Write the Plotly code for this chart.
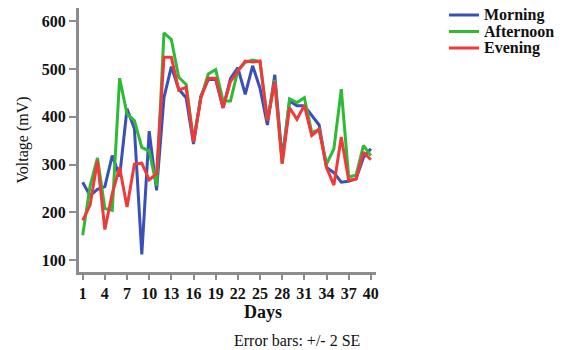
import plotly.graph_objects as go

days = list(range(1, 41))
tick_days = [1, 4, 7, 10, 13, 16, 19, 22, 25, 28, 31, 34, 37, 40]
y_ticks = [100, 200, 300, 400, 500, 600]

morning = [263, 235, 248, 254, 319, 275, 417, 375, 112, 370, 246, 440, 505, 458, 440, 343, 444, 478, 478, 419,
           480, 503, 447, 507, 460, 383, 488, 312, 433, 423, 423, 402, 383, 294, 283, 263, 265, 270, 315, 333]
afternoon = [152, 255, 314, 208, 204, 481, 406, 392, 336, 328, 256, 576, 562, 483, 468, 350, 440, 490, 499, 433,
             433, 497, 514, 519, 515, 392, 477, 302, 438, 430, 440, 367, 374, 301, 333, 458, 274, 278, 340, 319]
evening = [183, 215, 308, 164, 239, 294, 211, 301, 303, 268, 281, 525, 525, 456, 462, 347, 440, 481, 481, 419,
           474, 496, 517, 515, 517, 392, 474, 302, 419, 395, 424, 361, 374, 294, 257, 358, 267, 270, 326, 310]

series = [
    ("Morning", morning, "#3a50b8"),
    ("Afternoon", afternoon, "#2fba36"),
    ("Evening", evening, "#f03a3a"),
]

SERIF = "Liberation Serif, Times New Roman, serif"
W, H = 566, 350
ML, MR, MT, MB = 79, 190, 8, 78
PW, PH = W - ML - MR, H - MT - MB


def px_x(p):
    return (p - ML) / PW


def px_y(p):
    return (H - MB - p) / PH


fig = go.Figure()
for name, vals, color in series:
    fig.add_trace(go.Scatter(
        x=days, y=vals, mode="lines", name=name, showlegend=False,
        line=dict(color=color, width=3),
    ))

axis_common = dict(
    showgrid=False, zeroline=False, showline=True,
    linecolor="#8c8c8c", linewidth=3,
    ticks="outside", tickcolor="#8c8c8c", tickwidth=2,
    tickfont=dict(family=SERIF, size=16, color="#111111", weight="bold"),
)

# legend: short line swatch plus bold label per series
shapes, annotations = [], []
for i, (name, _, color) in enumerate(series):
    yc = 15 + i * 16.5
    shapes.append(dict(type="line", xref="paper", yref="paper",
                       x0=px_x(449), x1=px_x(479), y0=px_y(yc), y1=px_y(yc),
                       line=dict(color=color, width=3)))
    annotations.append(dict(text=name, xref="paper", yref="paper", x=px_x(482), y=px_y(yc),
                            xanchor="left", yanchor="middle", showarrow=False,
                            font=dict(family=SERIF, size=16, color="#111111", weight="bold")))

annotations += [
    dict(text="Days", xref="paper", yref="paper", x=px_x(263), y=px_y(312),
         xanchor="center", yanchor="middle", showarrow=False,
         font=dict(family=SERIF, size=18, color="#111111", weight="bold")),
    dict(text="Error bars: +/- 2 SE", xref="paper", yref="paper", x=px_x(297), y=px_y(340),
         xanchor="center", yanchor="middle", showarrow=False,
         font=dict(family=SERIF, size=16, color="#111111")),
]

fig.update_layout(
    width=W, height=H,
    margin=dict(l=ML, r=MR, t=MT, b=MB),
    paper_bgcolor="white", plot_bgcolor="white",
    xaxis=dict(range=[0.5, 40.7], tickvals=tick_days, ticktext=[str(d) for d in tick_days],
               ticklen=5, tickangle=0, **axis_common),
    yaxis=dict(range=[75, 628], tickvals=y_ticks, ticklen=7,
               title=dict(text="Voltage (mV)", font=dict(family=SERIF, size=16, color="#111111"),
                          standoff=10),
               **axis_common),
    showlegend=False,
    shapes=shapes,
    annotations=annotations,
)

fig.write_html("out.html")
